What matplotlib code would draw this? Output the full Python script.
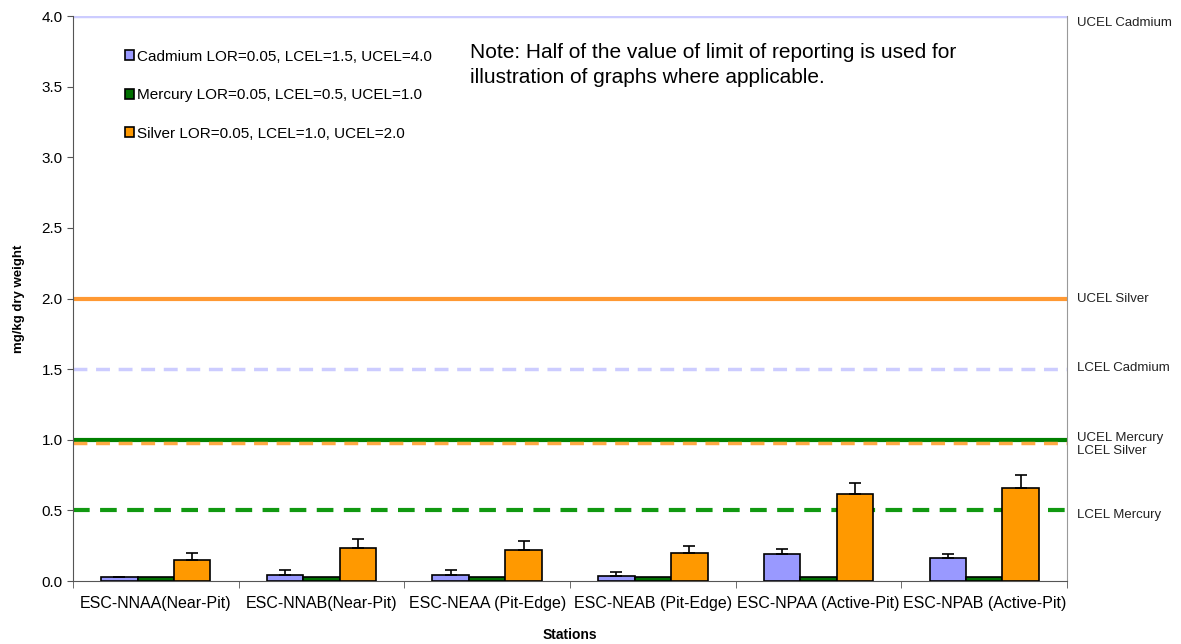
import numpy as np
import matplotlib
matplotlib.use("Agg")
import matplotlib.pyplot as plt

plt.rcParams["font.family"] = ["Liberation Sans", "DejaVu Sans"]

# ------------------------------------------------------------
# Data
# ------------------------------------------------------------
stations = ["ESC-NNAA(Near-Pit)", "ESC-NNAB(Near-Pit)", "ESC-NEAA (Pit-Edge)",
            "ESC-NEAB (Pit-Edge)", "ESC-NPAA (Active-Pit)", "ESC-NPAB (Active-Pit)"]

cadmium = [0.025, 0.045, 0.045, 0.038, 0.193, 0.160]
cadmium_err = [0.0, 0.030, 0.030, 0.024, 0.036, 0.033]
mercury = [0.025, 0.025, 0.025, 0.025, 0.025, 0.025]
silver = [0.150, 0.235, 0.220, 0.196, 0.614, 0.656]
silver_err = [0.050, 0.060, 0.060, 0.054, 0.082, 0.094]

series_labels = ["Cadmium LOR=0.05, LCEL=1.5, UCEL=4.0",
                 "Mercury LOR=0.05, LCEL=0.5, UCEL=1.0",
                 "Silver LOR=0.05, LCEL=1.0, UCEL=2.0"]

# guideline levels (label, value)
limit_names = ["UCEL Cadmium", "UCEL Silver", "LCEL Cadmium",
               "UCEL Mercury", "LCEL Silver", "LCEL Mercury"]
limit_values = [4.0, 2.0, 1.5, 1.0, 0.975, 0.5]

# ------------------------------------------------------------
fig = plt.figure(figsize=(11.81, 6.44), dpi=100)
ax = fig.add_axes([0.0618, 0.0978, 0.8417, 0.8772])

col_cd = "#9999FF"
col_hg = "#006F00"
col_ag = "#FF9900"

x = np.arange(len(stations))
w = 0.22

ax.bar(x - w, cadmium, w, color=col_cd, edgecolor="black", linewidth=1.2,
       label=series_labels[0], zorder=3)
ax.bar(x, mercury, w, color=col_hg, edgecolor="black", linewidth=1.2,
       label=series_labels[1], zorder=3)
ax.bar(x + w, silver, w, color=col_ag, edgecolor="black", linewidth=1.2,
       label=series_labels[2], zorder=3)

ax.errorbar(x - w, cadmium, yerr=[np.zeros(len(x)), cadmium_err], fmt="none",
            ecolor="black", elinewidth=1.2, capsize=4, capthick=1.2, zorder=4)
ax.errorbar(x + w, silver, yerr=[np.zeros(len(x)), silver_err], fmt="none",
            ecolor="black", elinewidth=1.2, capsize=4, capthick=1.2, zorder=4)

# limit lines
line_styles = [
    dict(color="#CCCCFF", ls="-", lw=2.5),
    dict(color="#FF9933", ls="-", lw=3),
    dict(color="#CCCCFF", ls=(0, (4, 2.5)), lw=2.5),
    dict(color="#008000", ls="-", lw=3),
    dict(color="#FFAA44", ls=(0, (4, 2.5)), lw=2.5),
    dict(color="#119911", ls=(0, (4, 2.5)), lw=3),
]
for val, st in zip(limit_values, line_styles):
    ax.axhline(val, zorder=2, **st)

label_y = [3.95, 2.0, 1.51, 1.01, 0.92, 0.47]
for name, yy in zip(limit_names, label_y):
    ax.text(1.01, yy, name, transform=ax.get_yaxis_transform(),
            fontsize=9.5, va="center", ha="left", color="#222222")

ax.set_xlim(-0.5, len(stations) - 0.5)
ax.set_ylim(0, 4.0)
ax.set_yticks(np.arange(0, 4.01, 0.5))
ax.set_yticklabels([f"{v:.1f}" for v in np.arange(0, 4.01, 0.5)], fontsize=11)
ax.set_xticks(x)
ax.set_xticklabels(stations, fontsize=11.5)
ax.set_xticks(np.arange(-0.5, len(stations)), minor=True)
ax.tick_params(axis="x", which="major", length=0, pad=11)
ax.tick_params(axis="x", which="minor", length=5, color="#555555")
ax.tick_params(axis="y", length=4, color="#555555")

for side in ["left", "bottom"]:
    ax.spines[side].set_color("#555555")
ax.spines["right"].set_color("#999999")
ax.spines["top"].set_visible(False)

ax.set_ylabel("mg/kg dry weight", fontsize=9.5, fontweight="bold", labelpad=12)
ax.set_xlabel("Stations", fontsize=10, fontweight="bold", labelpad=12)

handles, labels = ax.get_legend_handles_labels()
ax.legend(handles, labels, loc="upper left", bbox_to_anchor=(0.038, 0.965),
          frameon=False, fontsize=11, handlelength=0.6, handleheight=0.6,
          handletextpad=0.2, labelspacing=1.6)

ax.text(0.399, 0.953, "Note: Half of the value of limit of reporting is used for\n"
        "illustration of graphs where applicable.", transform=ax.transAxes,
        fontsize=15, va="top", ha="left", linespacing=1.45)

fig.savefig("out.png", dpi=100)
